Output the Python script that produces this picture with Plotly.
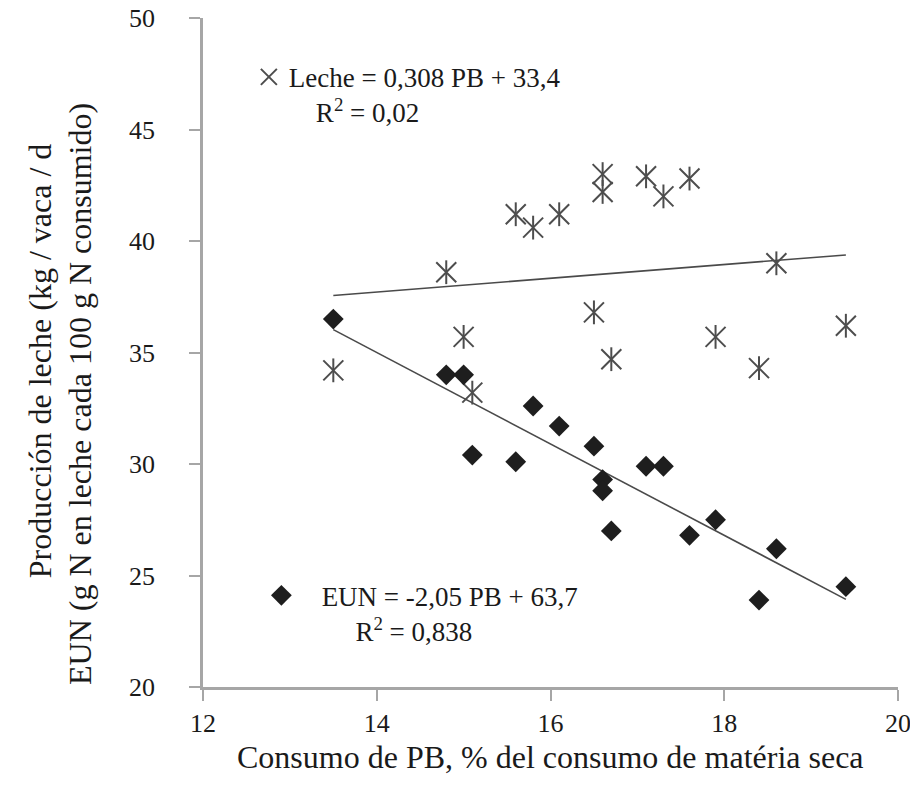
import plotly.graph_objects as go

# Consumo de PB (% de la MS)
pb_leche = [13.5, 14.8, 15.0, 15.1, 15.6, 15.8, 16.1, 16.5, 16.6, 16.6, 16.7, 17.1, 17.3, 17.6, 17.9, 18.4, 18.6, 19.4]
leche = [34.2, 38.6, 35.7, 33.2, 41.2, 40.6, 41.2, 36.8, 43.0, 42.2, 34.7, 42.9, 42.0, 42.8, 35.7, 34.3, 39.0, 36.2]

pb_eun = [13.5, 14.8, 15.0, 15.1, 15.6, 15.8, 16.1, 16.5, 16.6, 16.6, 16.7, 17.1, 17.3, 17.6, 17.9, 18.4, 18.6, 19.4]
eun = [36.5, 34.0, 34.0, 30.4, 30.1, 32.6, 31.7, 30.8, 29.3, 28.8, 27.0, 29.9, 29.9, 26.8, 27.5, 23.9, 26.2, 24.5]

# Ecuaciones de las rectas de tendencia
leche_slope, leche_intercept = 0.308, 33.4
eun_slope, eun_intercept = -2.05, 63.7

x_ticks = [12, 14, 16, 18, 20]
y_ticks = [20, 25, 30, 35, 40, 45, 50]

FONT = "Liberation Serif"
GREY = "#a6a6a6"
TXT = "#1a1a1a"

def trend(xs, m, b):
    lo, hi = min(xs), max(xs)
    return [lo, hi], [m * lo + b, m * hi + b]

fig = go.Figure()

tx, ty = trend(pb_leche, leche_slope, leche_intercept)
fig.add_trace(go.Scatter(x=tx, y=ty, mode="lines", line=dict(color="#4a4a4a", width=1.6),
                         showlegend=False, hoverinfo="skip"))
tx, ty = trend(pb_eun, eun_slope, eun_intercept)
fig.add_trace(go.Scatter(x=tx, y=ty, mode="lines", line=dict(color="#4a4a4a", width=1.6),
                         showlegend=False, hoverinfo="skip"))

# Leche: asterisk = X + vertical bar
fig.add_trace(go.Scatter(x=pb_leche, y=leche, mode="markers",
                         marker=dict(symbol="line-ns-open", size=17, color="#4d4d4d",
                                     line=dict(color="#4d4d4d", width=2)),
                         showlegend=False, hoverinfo="skip"))
fig.add_trace(go.Scatter(x=pb_leche, y=leche, mode="markers",
                         name="Leche = 0,308 PB + 33,4<br>\u00a0\u00a0\u00a0\u00a0R<sup>2</sup> = 0,02",
                         marker=dict(symbol="x-thin-open", size=20, color="#4d4d4d",
                                     line=dict(color="#4d4d4d", width=2)),
                         legend="legend"))

fig.add_trace(go.Scatter(x=pb_eun, y=eun, mode="markers",
                         name="\u00a0\u00a0\u00a0EUN = -2,05 PB + 63,7<br>\u00a0\u00a0\u00a0\u00a0\u00a0\u00a0\u00a0\u00a0R<sup>2</sup> = 0,838",
                         marker=dict(symbol="diamond", size=16, color="#1e1e1e"),
                         legend="legend2"))

axis_common = dict(showline=True, linecolor=GREY, linewidth=2.5, ticks="outside",
                   tickcolor=GREY, tickwidth=2, ticklen=11, showgrid=False, zeroline=False,
                   automargin=False, ticklabeloverflow="allow",
                   tickfont=dict(family=FONT, size=26, color=TXT))

fig.update_layout(
    width=910, height=789,
    margin=dict(l=203, r=12, t=18, b=102),
    paper_bgcolor="white", plot_bgcolor="white",
    font=dict(family=FONT, color=TXT),
    xaxis=dict(range=[12, 20], tickvals=x_ticks, ticklabelstandoff=0, **axis_common),
    yaxis=dict(range=[20, 50], tickvals=y_ticks, ticklabelstandoff=29, **axis_common),
    legend=dict(x=0.066, y=0.948, xanchor="left", yanchor="top", valign="top",
                bgcolor="rgba(0,0,0,0)", font=dict(family=FONT, size=27, color=TXT)),
    legend2=dict(x=0.084, y=0.173, xanchor="left", yanchor="top", valign="top",
                 bgcolor="rgba(0,0,0,0)", font=dict(family=FONT, size=27, color=TXT)),
    annotations=[
        dict(text="Consumo de PB, % del consumo de matéria seca", xref="paper", yref="paper",
             x=0.5, y=-0.1046, xanchor="center", yanchor="middle",
             showarrow=False, font=dict(family=FONT, size=32, color=TXT)),
        dict(text="Producción de leche (kg / vaca / d", xref="paper", yref="paper",
             x=-0.2345, y=0.487, xanchor="center", yanchor="middle", textangle=-90,
             showarrow=False, font=dict(family=FONT, size=32, color=TXT)),
        dict(text="EUN (g N en leche cada 100 g N consumido)", xref="paper", yref="paper",
             x=-0.177, y=0.438, xanchor="center", yanchor="middle", textangle=-90,
             showarrow=False, font=dict(family=FONT, size=32, color=TXT)),
    ],
)

fig.write_html("out.html")
